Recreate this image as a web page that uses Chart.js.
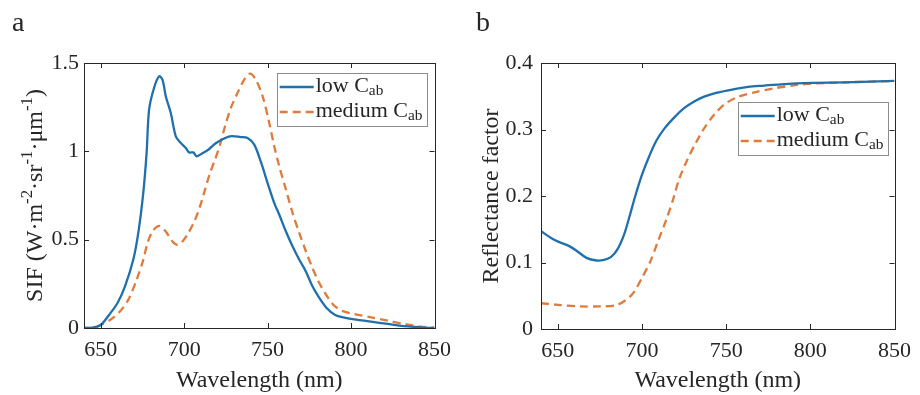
<!DOCTYPE html>
<html>
<head>
<meta charset="utf-8">
<script src="https://cdn.jsdelivr.net/npm/chart.js@4.4.0/dist/chart.umd.min.js"></script>
<style>
  html, body { margin: 0; padding: 0; background: #fff; }
  .panel { position: absolute; top: 0; width: 460px; height: 395px; }
  #left { left: 0; }
  #right { left: 460px; }
</style>
</head>
<body>
<div class="panel" id="left"><canvas id="sifChart" width="460" height="395"></canvas></div>
<div class="panel" id="right"><canvas id="reflChart" width="460" height="395"></canvas></div>
<script>
// SIF spectra (W m-2 sr-1 um-1)
const sifLowWl = [640, 644, 650, 655, 660, 664.5, 669.5, 672.5, 675.5, 677.5, 679, 682, 685, 687, 689, 692, 695, 698, 701, 703, 705.5, 707.5, 710.5, 714.5, 718.5, 722.5, 727.5, 734, 738, 742, 746, 750, 754, 757, 761, 765, 769, 773, 776.5, 780.5, 785.5, 790.5, 795.5, 802, 812, 822, 831.5, 841.5, 850];
const sifLow = [0, 0, 0.017, 0.074, 0.14, 0.234, 0.386, 0.537, 0.764, 0.99, 1.236, 1.36, 1.425, 1.406, 1.312, 1.217, 1.085, 1.047, 1.019, 0.994, 0.994, 0.972, 0.987, 1.009, 1.043, 1.066, 1.085, 1.081, 1.076, 1.038, 0.94, 0.82, 0.707, 0.641, 0.546, 0.461, 0.386, 0.319, 0.244, 0.178, 0.112, 0.074, 0.06, 0.049, 0.036, 0.023, 0.011, 0.004, 0];
const sifMedWl = [640, 646, 650, 655.5, 661.5, 666.5, 671.5, 675.5, 678, 681, 685, 689, 693, 696, 699, 702.5, 706.5, 709.5, 712.5, 715.5, 718.5, 721.5, 724.5, 728, 732, 736, 739.5, 743, 747, 751, 754, 757, 761, 765, 769, 773, 776.5, 780.5, 784.5, 789.5, 794.5, 802, 812, 822, 831.5, 841.5, 850];
const sifMed = [0, 0, 0.017, 0.045, 0.093, 0.159, 0.272, 0.386, 0.48, 0.546, 0.578, 0.546, 0.49, 0.471, 0.49, 0.537, 0.612, 0.688, 0.783, 0.877, 0.953, 1.038, 1.142, 1.246, 1.331, 1.406, 1.44, 1.405, 1.312, 1.161, 1.028, 0.915, 0.783, 0.65, 0.537, 0.433, 0.348, 0.263, 0.197, 0.13, 0.098, 0.079, 0.06, 0.042, 0.023, 0.008, 0.002];

// reflectance factor
const reflLowWl = [640, 646, 650.5, 656.5, 661.5, 667, 673, 677.5, 681.5, 685.5, 689.5, 693, 696, 700, 704, 708.5, 713.5, 719.5, 725, 731, 736.5, 744, 753.5, 763, 772.5, 782.5, 801.5, 821, 850];
const reflLow = [0.147, 0.137, 0.131, 0.125, 0.117, 0.107, 0.103, 0.104, 0.108, 0.12, 0.143, 0.173, 0.2, 0.232, 0.258, 0.283, 0.302, 0.319, 0.332, 0.342, 0.349, 0.355, 0.36, 0.364, 0.366, 0.368, 0.37, 0.371, 0.373];
const reflMedWl = [640, 651.5, 663, 675, 684.5, 690.5, 695, 700, 705, 709.5, 714.5, 718.5, 722, 727, 732, 736.5, 741.5, 744.5, 749.5, 757, 767, 778.5, 792, 801.5, 821, 850];
const reflMed = [0.0387, 0.036, 0.034, 0.034, 0.0357, 0.0437, 0.0547, 0.077, 0.102, 0.132, 0.165, 0.195, 0.225, 0.255, 0.28, 0.30, 0.318, 0.327, 0.339, 0.349, 0.356, 0.362, 0.367, 0.369, 0.371, 0.373];

// ticks
const wlTicks = [650, 700, 750, 800, 850];
const sifTicks = [0, 0.5, 1, 1.5];
const reflTicks = [0, 0.1, 0.2, 0.3, 0.4];

// labels (rich text parts: sup / sub)
const seriesNames = [
  [{ t: 'low C' }, { t: 'ab', sub: true }],
  [{ t: 'medium C' }, { t: 'ab', sub: true }]
];
const sifTitle = [{ t: 'SIF (W·m' }, { t: '-2', sup: true }, { t: '·sr' }, { t: '-1', sup: true }, { t: '·μm' }, { t: '-1', sup: true }, { t: ')' }];
const reflTitle = [{ t: 'Reflectance factor' }];
const wlTitle = [{ t: 'Wavelength (nm)' }];

const FONT = "'Liberation Serif', 'Times New Roman', serif";
const INK = '#262626';
const BLUE = '#1f70ad';
const ORANGE = '#df7b3d';

const pts = (xs, ys) => xs.map((x, i) => ({ x: x, y: ys[i] }));

// draws text with super/subscripts, returns width
function richWidth(ctx, parts, size) {
  let w = 0;
  parts.forEach(p => {
    const s = (p.sup || p.sub) ? size * 0.7 : size;
    ctx.font = s + 'px ' + FONT;
    w += ctx.measureText(p.t).width;
  });
  return w;
}
function drawRich(ctx, parts, x, y, size) {
  parts.forEach(p => {
    let s = size, dy = 0;
    if (p.sup) { s = size * 0.7; dy = -size * 0.4; }
    if (p.sub) { s = size * 0.7; dy = size * 0.15; }
    ctx.font = s + 'px ' + FONT;
    ctx.fillText(p.t, x, y + dy);
    x += ctx.measureText(p.t).width;
  });
}

// box, inward ticks, titles, legend, panel letter
const matlabAxes = {
  id: 'matlabAxes',
  afterDatasetsDraw(chart, args, o) {
    const ctx = chart.ctx;
    const a = chart.chartArea;
    const xs = chart.scales.x, ys = chart.scales.y;
    ctx.save();
    ctx.strokeStyle = INK;
    ctx.lineWidth = 1;
    ctx.strokeRect(Math.round(a.left) + 0.5, Math.round(a.top) + 0.5, Math.round(a.right - a.left), Math.round(a.bottom - a.top));
    const tl = 5;
    ctx.beginPath();
    xs.ticks.forEach(t => {
      const px = Math.round(xs.getPixelForValue(t.value)) + 0.5;
      ctx.moveTo(px, a.bottom); ctx.lineTo(px, a.bottom - tl);
      ctx.moveTo(px, a.top); ctx.lineTo(px, a.top + tl);
    });
    ys.ticks.forEach(t => {
      const py = Math.round(ys.getPixelForValue(t.value)) + 0.5;
      ctx.moveTo(a.left, py); ctx.lineTo(a.left + tl, py);
      ctx.moveTo(a.right, py); ctx.lineTo(a.right - tl, py);
    });
    ctx.stroke();

    ctx.fillStyle = INK;
    ctx.textBaseline = 'alphabetic';
    ctx.textAlign = 'left';
    // x title
    const xw = richWidth(ctx, wlTitle, 24);
    drawRich(ctx, wlTitle, (a.left + a.right) / 2 - xw / 2, o.xTitleY, 24);
    // y title, rotated
    const yw = richWidth(ctx, o.yTitle, 24);
    ctx.save();
    ctx.translate(o.yTitleX, (a.top + a.bottom) / 2);
    ctx.rotate(-Math.PI / 2);
    drawRich(ctx, o.yTitle, -yw / 2, 0, 24);
    ctx.restore();
    // panel letter
    ctx.font = '28px ' + FONT;
    ctx.fillText(o.letter, o.letterX, 31);

    // legend
    const fs = 22;
    let tw = 0;
    seriesNames.forEach(n => { tw = Math.max(tw, richWidth(ctx, n, fs)); });
    const bw = 3 + 34 + 3 + tw + 3, bh = 53;
    const bx = a.right - o.legendRight - bw, by = a.top + o.legendTop;
    ctx.fillStyle = '#fff';
    ctx.fillRect(bx, by, bw, bh);
    ctx.strokeStyle = '#8c8c8c';
    ctx.strokeRect(Math.round(bx) + 0.5, Math.round(by) + 0.5, Math.round(bw), Math.round(bh));
    chart.data.datasets.forEach((ds, i) => {
      const cy = by + 14 + i * 25;
      ctx.strokeStyle = ds.borderColor;
      ctx.lineWidth = ds.borderWidth;
      ctx.setLineDash(ds.borderDash || []);
      ctx.beginPath();
      ctx.moveTo(bx + 3, cy); ctx.lineTo(bx + 37, cy);
      ctx.stroke();
      ctx.setLineDash([]);
      ctx.fillStyle = INK;
      drawRich(ctx, seriesNames[i], bx + 39, cy + 5, fs);
    });
    ctx.restore();
  }
};

function makePanel(id, lowPts, medPts, yTicks, yMax, pad, yWidth, xHeight, yPad, extra) {
  return new Chart(document.getElementById(id), {
    type: 'scatter',
    data: {
      datasets: [
        { label: 'low', data: lowPts, showLine: true, borderColor: BLUE, borderWidth: 2.3, pointRadius: 0, tension: 0.3 },
        { label: 'medium', data: medPts, showLine: true, borderColor: ORANGE, borderWidth: 2.3, borderDash: [8, 5], pointRadius: 0, tension: 0.3 }
      ]
    },
    options: {
      responsive: false,
      animation: false,
      devicePixelRatio: 1,
      layout: { padding: pad },
      plugins: { legend: { display: false }, tooltip: { enabled: false }, matlabAxes: extra },
      scales: {
        x: {
          type: 'linear', min: 640, max: 850,
          grid: { display: false, drawTicks: false },
          border: { display: false },
          afterBuildTicks: s => { s.ticks = wlTicks.map(v => ({ value: v })); },
          afterFit: s => { s.height = xHeight; },
          ticks: { padding: 9, color: INK, font: { family: FONT, size: 22 }, callback: v => String(v) }
        },
        y: {
          min: 0, max: yMax,
          grid: { display: false, drawTicks: false },
          border: { display: false },
          afterBuildTicks: s => { s.ticks = yTicks.map(v => ({ value: v })); },
          afterFit: s => { s.width = yWidth; },
          ticks: { padding: yPad, color: INK, font: { family: FONT, size: 22 }, callback: v => String(v) }
        }
      }
    },
    plugins: [matlabAxes]
  });
}

makePanel('sifChart', pts(sifLowWl, sifLow), pts(sifMedWl, sifMed), sifTicks, 1.5,
  { left: 0, top: 63, right: 19, bottom: 0 }, 84, 67, 5,
  { yTitle: sifTitle, yTitleX: 42, xTitleY: 387, letter: 'a', letterX: 12, legendRight: 8, legendTop: 10 });

makePanel('reflChart', pts(reflLowWl, reflLow), pts(reflMedWl, reflMed), reflTicks, 0.4,
  { left: 0, top: 63, right: 17, bottom: 0 }, 81, 66, 8,
  { yTitle: reflTitle, yTitleX: 38, xTitleY: 387, letter: 'b', letterX: 16, legendRight: 7, legendTop: 39 });
</script>
</body>
</html>
